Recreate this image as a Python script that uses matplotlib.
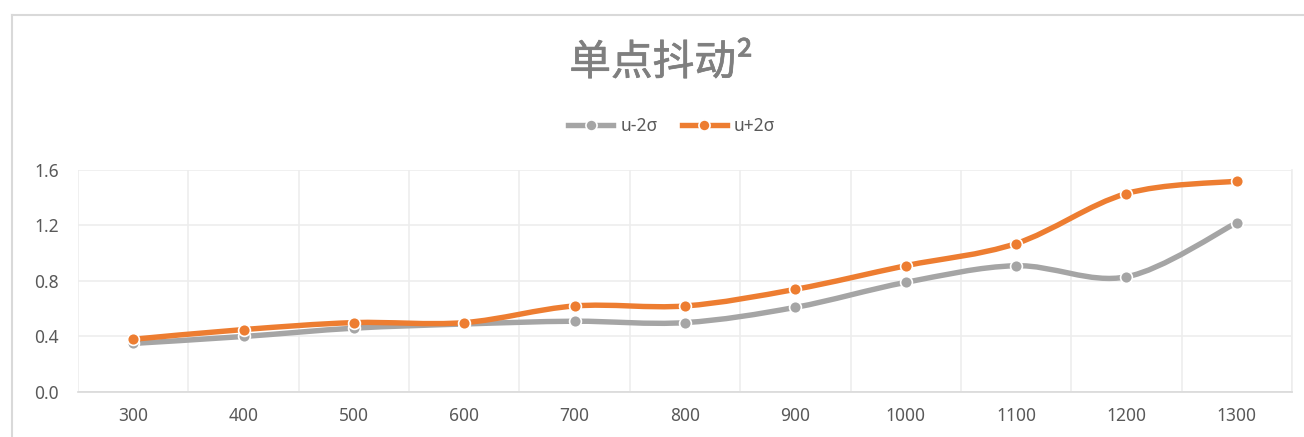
import numpy as np
import matplotlib.pyplot as plt
import matplotlib.patheffects as pe
from matplotlib.path import Path
from matplotlib.patches import PathPatch
from matplotlib.lines import Line2D

plt.rcParams['font.family'] = ['Noto Sans CJK SC', 'DejaVu Sans']

# data
categories = ['300', '400', '500', '600', '700', '800', '900', '1000', '1100', '1200', '1300']
u_minus = [0.35, 0.40, 0.46, 0.49, 0.51, 0.50, 0.61, 0.79, 0.91, 0.83, 1.22]
u_plus = [0.38, 0.45, 0.50, 0.50, 0.62, 0.62, 0.74, 0.91, 1.07, 1.43, 1.52]
y_ticks = [0.0, 0.4, 0.8, 1.2, 1.6]

GRAY = '#A5A5A5'
ORANGE = '#ED7D31'
TXT = '#595959'


def smooth_path(xs, ys):
    # Excel-style smoothed line: cubic bezier through the points
    xs = np.asarray(xs, float)
    ys = np.asarray(ys, float)
    n = len(xs)
    verts = [(xs[0], ys[0])]
    codes = [Path.MOVETO]
    for i in range(n - 1):
        p0 = (xs[max(i - 1, 0)], ys[max(i - 1, 0)])
        p1 = (xs[i], ys[i])
        p2 = (xs[i + 1], ys[i + 1])
        p3 = (xs[min(i + 2, n - 1)], ys[min(i + 2, n - 1)])
        c1 = (p1[0] + (p2[0] - p0[0]) / 6, p1[1] + (p2[1] - p0[1]) / 6)
        c2 = (p2[0] - (p3[0] - p1[0]) / 6, p2[1] - (p3[1] - p1[1]) / 6)
        verts += [c1, c2, p2]
        codes += [Path.CURVE4] * 3
    return Path(verts, codes)


fig = plt.figure(figsize=(13.04, 4.37), dpi=100)
ax = fig.add_axes([0.0598, 0.103, 0.9310, 0.508])

x = np.arange(len(categories))
for vals, col, z in [(u_minus, GRAY, 3), (u_plus, ORANGE, 4)]:
    patch = PathPatch(smooth_path(x, vals), facecolor='none', edgecolor=col,
                      lw=3.9, capstyle='round', joinstyle='round', zorder=z)
    ax.add_patch(patch)
    ax.plot(x, vals, 'o', color=col, ms=8.5, mec='white', mew=1.2, zorder=z + 0.5)

ax.set_xlim(-0.5, len(categories) - 0.5)
ax.set_ylim(0, 1.6)
ax.set_yticks(y_ticks)
ax.set_yticklabels([f'{v:.1f}' for v in y_ticks])
ax.set_xticks(x)
ax.set_xticklabels(categories)
ax.set_xticks(np.arange(len(categories) + 1) - 0.5, minor=True)

ax.grid(axis='y', which='major', color='#EDEDED', lw=1.2)
ax.grid(axis='x', which='minor', color='#EDEDED', lw=1.2)
ax.tick_params(which='both', length=0)
ax.tick_params(axis='x', pad=11, labelsize=12.5, labelcolor=TXT)
ax.tick_params(axis='y', pad=14, labelsize=12.5, labelcolor=TXT)
for lab in ax.get_xticklabels() + ax.get_yticklabels():
    lab.set_family(['Noto Sans', 'DejaVu Sans'])
for s in ['top', 'left']:
    ax.spines[s].set_visible(False)
ax.spines['right'].set_color('#EDEDED')
ax.spines['bottom'].set_color('#D9D9D9')
ax.spines['right'].set_linewidth(1.2)
ax.spines['bottom'].set_linewidth(1.2)
ax.set_axisbelow(True)

title = fig.text(0.507, 0.855, '单点抖动²', ha='center', va='center', fontsize=30,
                 color='#7F7F7F')
title.set_path_effects([pe.withStroke(linewidth=0.5, foreground='#7F7F7F')])

handles = [Line2D([0], [0], color=GRAY, lw=3.9, marker='o', ms=8, mec='white', mew=1.2),
           Line2D([0], [0], color=ORANGE, lw=3.9, marker='o', ms=8, mec='white', mew=1.2)]
fig.legend(handles, ['u-2σ', 'u+2σ'], loc='center', bbox_to_anchor=(0.515, 0.712),
           ncol=2, frameon=False, labelcolor=TXT, handlelength=2.6,
           columnspacing=1.4, handletextpad=0.4,
           prop={'family': ['Noto Sans', 'DejaVu Sans'], 'size': 12.5})

# chart border (left and top visible)
fig.add_artist(Line2D([12 / 1304, 12 / 1304], [0, 1 - 15 / 437], color='#D9D9D9', lw=1.5,
                      transform=fig.transFigure))
fig.add_artist(Line2D([12 / 1304, 1], [1 - 15 / 437, 1 - 15 / 437], color='#D9D9D9', lw=1.5,
                      transform=fig.transFigure))

fig.savefig('out.png', dpi=100, facecolor='white')
